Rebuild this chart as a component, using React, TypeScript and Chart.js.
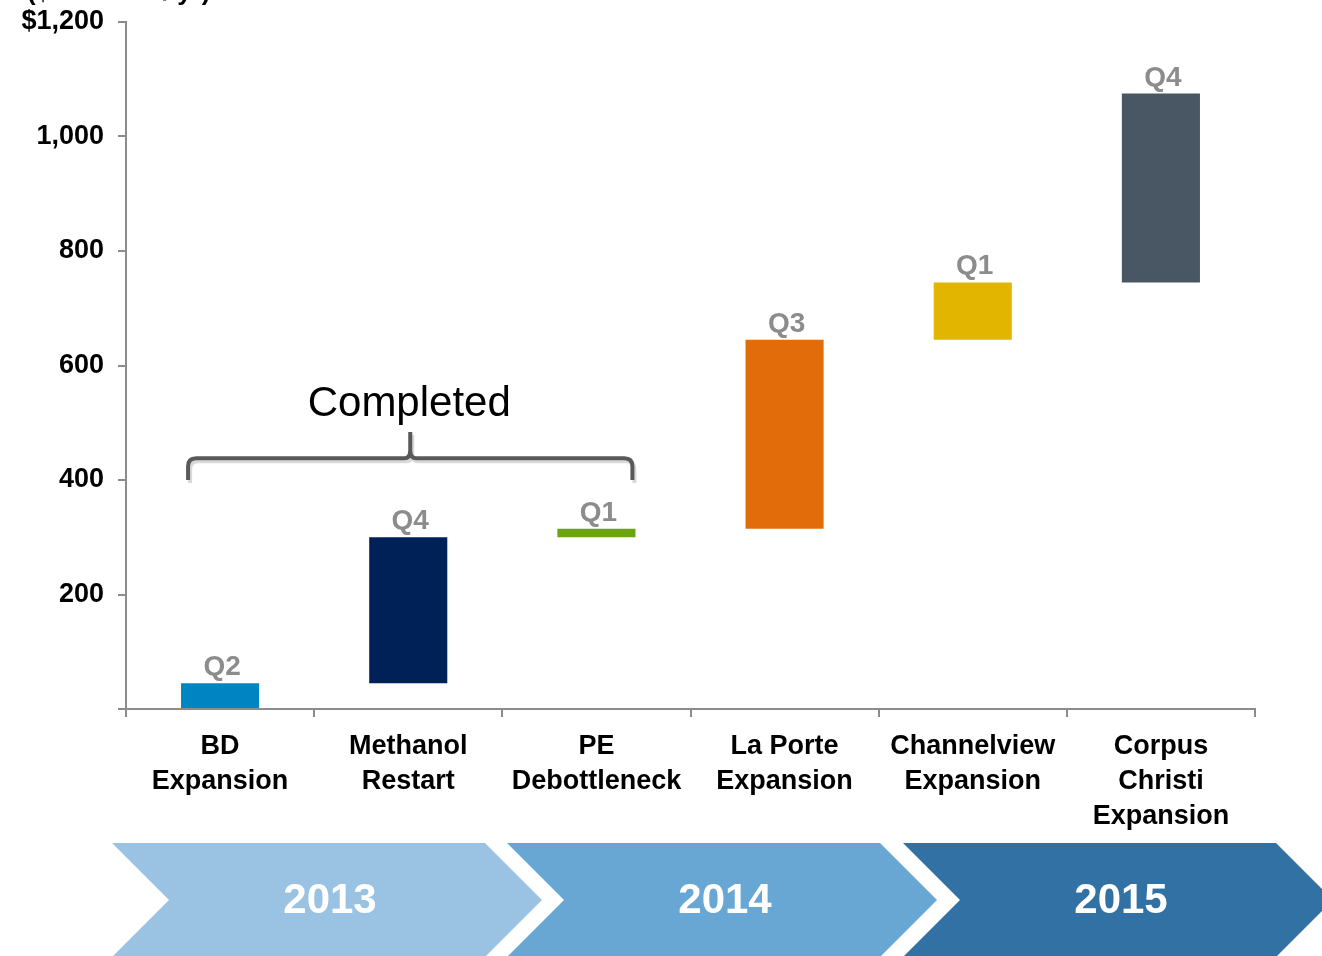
import React, { useEffect, useRef } from "react";
import { Chart, registerables } from "chart.js";

Chart.register(...registerables);

const categories: string[][] = [
  ["BD", "Expansion"],
  ["Methanol", "Restart"],
  ["PE", "Debottleneck"],
  ["La Porte", "Expansion"],
  ["Channelview", "Expansion"],
  ["Corpus", "Christi", "Expansion"],
];
const barStarts = [0, 45, 300, 315, 645, 745];
const barEnds = [45, 300, 315, 645, 745, 1075];
const quarterLabels = ["Q2", "Q4", "Q1", "Q3", "Q1", "Q4"];
const barColors = ["#0085C3", "#002157", "#6AA40F", "#E36C0A", "#E2B500", "#495764"];
const yTicks = [0, 200, 400, 600, 800, 1000, 1200];
const years = ["2013", "2014", "2015"];
const yearColors = ["#9AC3E3", "#68A6D3", "#3171A4"];
const titleText = "($ millions / yr)";
const bracketLabel = "Completed";

const FONT = "'Liberation Sans', Arial, sans-serif";

export default function App() {
  const ref = useRef<HTMLCanvasElement | null>(null);

  useEffect(() => {
    document.body.style.margin = "0";
    const canvas = ref.current!;
    const overlay = {
      id: "overlay",
      afterDatasetsDraw(chart: any) {
        const ctx = chart.ctx;
        const meta = chart.getDatasetMeta(0);
        ctx.save();
        // quarter labels
        ctx.font = `bold 28px ${FONT}`;
        ctx.fillStyle = "#8C8C8C";
        ctx.textAlign = "center";
        ctx.textBaseline = "alphabetic";
        meta.data.forEach((el: any, i: number) => {
          const top = Math.min(el.y, el.base);
          ctx.fillText(quarterLabels[i], el.x + 2, top - 8);
        });

        // bracket "Completed"
        const xs = chart.scales.x;
        const ys = chart.scales.y;
        const left = xs.getPixelForValue(0) - 32;
        const right = xs.getPixelForValue(2) + 36;
        const mid = (left + right) / 2;
        const yLine = ys.getPixelForValue(438);
        const yEnd = ys.getPixelForValue(400);
        const yTip = ys.getPixelForValue(484);
        const r = 8;
        const drawBrace = () => {
          ctx.beginPath();
          ctx.moveTo(left, yEnd);
          ctx.lineTo(left, yLine + r);
          ctx.quadraticCurveTo(left, yLine, left + r, yLine);
          ctx.lineTo(mid - 6, yLine);
          ctx.quadraticCurveTo(mid, yLine, mid, yLine - 8);
          ctx.lineTo(mid, yTip);
          ctx.moveTo(mid, yLine - 8);
          ctx.quadraticCurveTo(mid, yLine, mid + 6, yLine);
          ctx.lineTo(right - r, yLine);
          ctx.quadraticCurveTo(right, yLine, right, yLine + r);
          ctx.lineTo(right, yEnd);
          ctx.stroke();
        };
        ctx.lineWidth = 4;
        ctx.lineCap = "butt";
        ctx.strokeStyle = "rgba(0,0,0,0.15)";
        ctx.save();
        ctx.translate(2, 3);
        drawBrace();
        ctx.restore();
        ctx.strokeStyle = "#595959";
        drawBrace();

        ctx.font = `42px ${FONT}`;
        ctx.fillStyle = "#000000";
        ctx.textBaseline = "alphabetic";
        ctx.fillText(bracketLabel, mid - 1, ys.getPixelForValue(538) + 15);

        // title (cut off at top)
        ctx.font = `bold 26px ${FONT}`;
        ctx.textAlign = "left";
        ctx.textBaseline = "alphabetic";
        ctx.fillText(titleText, 27, 0);

        // year chevrons
        const topY = 843;
        const botY = 957;
        const midY = 900;
        const depth = 57;
        const starts = [112, 507, 903];
        const len = 373;
        starts.forEach((L, i) => {
          const R = L + len;
          ctx.beginPath();
          ctx.moveTo(L, topY);
          ctx.lineTo(R, topY);
          ctx.lineTo(R + depth, midY);
          ctx.lineTo(R, botY);
          ctx.lineTo(L, botY);
          ctx.lineTo(L + depth, midY);
          ctx.closePath();
          ctx.fillStyle = yearColors[i];
          ctx.fill();
          ctx.font = `bold 42px ${FONT}`;
          ctx.fillStyle = "#FFFFFF";
          ctx.textAlign = "center";
          ctx.textBaseline = "middle";
          ctx.fillText(years[i], (L + R) / 2 + depth / 2 + 3, midY + 1);
        });
        ctx.restore();
      },
    };

    const chart = new Chart(canvas, {
      type: "bar",
      data: {
        labels: categories,
        datasets: [
          {
            data: barStarts.map((s, i) => [s, barEnds[i]]),
            backgroundColor: barColors,
            borderWidth: 0,
            barPercentage: 0.415,
            categoryPercentage: 1,
          },
        ],
      },
      options: {
        responsive: false,
        animation: false,
        devicePixelRatio: 1,
        layout: { padding: { left: 0, right: 67, top: 22, bottom: 0 } },
        plugins: {
          legend: { display: false },
          tooltip: { enabled: false },
        },
        scales: {
          x: {
            grid: {
              display: true,
              drawOnChartArea: false,
              drawTicks: true,
              tickLength: 8,
              color: "#8C8C8C",
              lineWidth: 2,
              offset: true,
            },
            border: { display: true, color: "#8C8C8C", width: 2 },
            ticks: {
              color: "#000000",
              font: { family: FONT, size: 27, weight: "bold", lineHeight: 1.3 },
              maxRotation: 0,
              minRotation: 0,
              autoSkip: false,
              padding: 12,
            },
            afterFit(scale: any) {
              scale.height = 956 - 709;
              scale.paddingLeft = 0;
              scale.paddingRight = 0;
            },
          },
          y: {
            min: 0,
            max: 1200,
            afterBuildTicks(scale: any) {
              scale.ticks = yTicks.map((v) => ({ value: v }));
            },
            grid: {
              display: true,
              drawOnChartArea: false,
              drawTicks: true,
              tickLength: 8,
              color: "#8C8C8C",
              lineWidth: 2,
            },
            border: { display: true, color: "#8C8C8C", width: 2 },
            ticks: {
              color: "#000000",
              font: { family: FONT, size: 27, weight: "bold" },
              padding: 14,
              callback: (v: any) => {
                if (v === 0) return "";
                const s = Number(v).toLocaleString("en-US");
                return v === 1200 ? "$" + s : s;
              },
            },
            afterFit(scale: any) {
              scale.width = 126;
              scale.paddingTop = 0;
              scale.paddingBottom = 0;
            },
          },
        },
      },
      plugins: [overlay],
    });
    return () => chart.destroy();
  }, []);

  return (
    <div style={{ position: "absolute", left: 0, top: 0, width: 1322, height: 956 }}>
      <canvas ref={ref} width={1322} height={956} />
    </div>
  );
}
